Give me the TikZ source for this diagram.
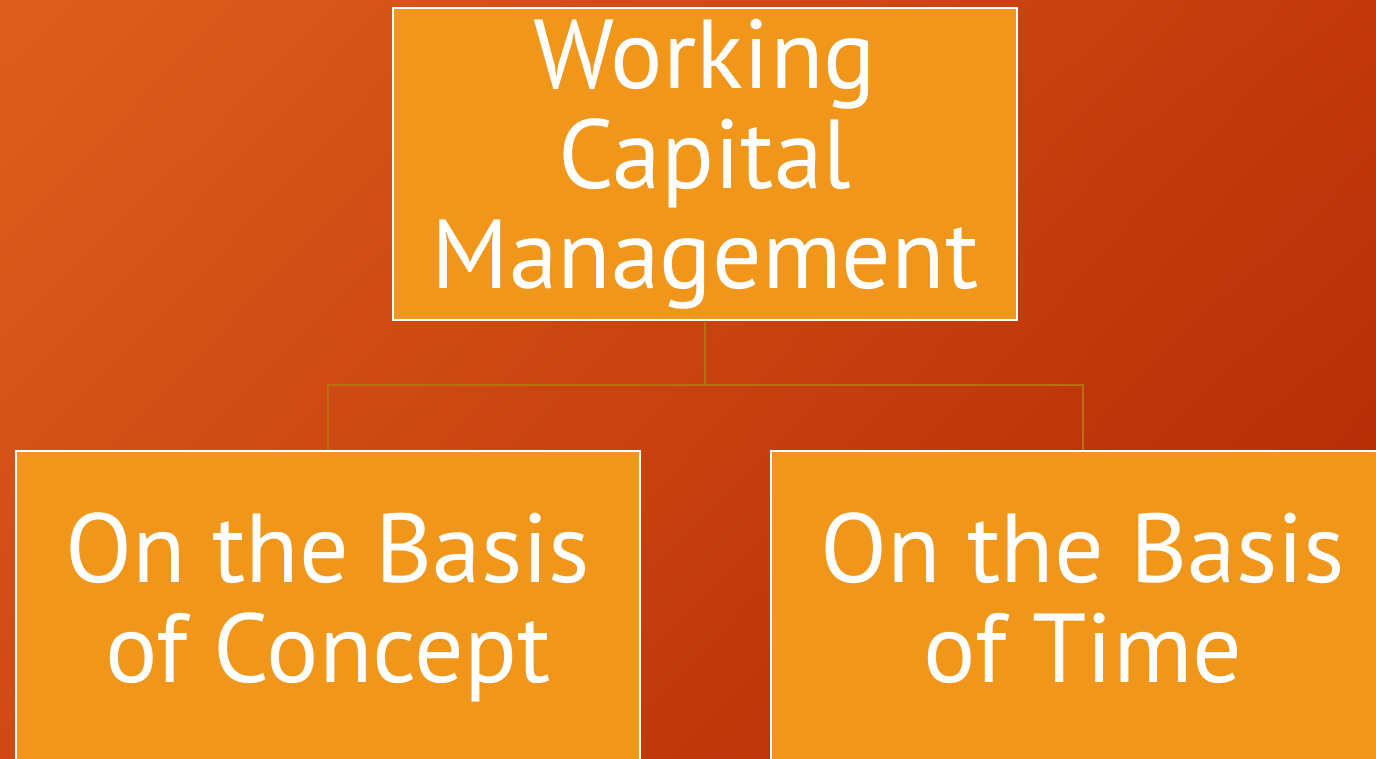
\documentclass[tikz,border=0pt]{standalone}
\usepackage{fontspec}
\setmainfont{PT Sans}
\usetikzlibrary{positioning,shadings,patterns}

\definecolor{boxorange}{HTML}{F0961A}
\definecolor{linkgold}{HTML}{B8700F}
\definecolor{bgtl}{HTML}{E2601E}
\definecolor{bgtr}{HTML}{C63A0C}
\definecolor{bgbl}{HTML}{D24C14}
\definecolor{bgbr}{HTML}{B22804}

\tikzset{every picture/.style={line width=0.75pt}}
\tikzset{
  catbox/.style={draw=white, line width=1.5pt, fill=boxorange, text=white,
    minimum width=468pt, minimum height=234pt, align=center, inner sep=0pt,
    font=\fontsize{73.5}{75}\selectfont},
  link/.style={draw=linkgold, line width=1.5pt}
}

\begin{document}
\begin{tikzpicture}[x=0.75pt,y=0.75pt,yscale=-1,xscale=1]
		\useasboundingbox (0,0) rectangle (1376,758);
		\clip (0,0) rectangle (1376,758);

		%Background
		\shade[upper left=bgtl, upper right=bgtr, lower left=bgbl, lower right=bgbr] (0,0) rectangle (1376,758);
		\fill[pattern=north west lines, pattern color=black, opacity=0.05] (0,0) rectangle (1376,758);

		% Top box
		\node[catbox] (wcm) at (705,164) {Working\\Capital\\Management};
		% Bottom boxes
		\node[catbox] (concept) at (328,607) {On the Basis\\of Concept};
		\node[catbox] (time) at (1083,607) {On the Basis\\of Time\vphantom{p}};

		% Connectors
		\coordinate (split) at (705,385);
		\draw[link] (wcm.south) -- (split) -| (concept.north);
		\draw[link] (split) -| (time.north);

\end{tikzpicture}
\end{document}
